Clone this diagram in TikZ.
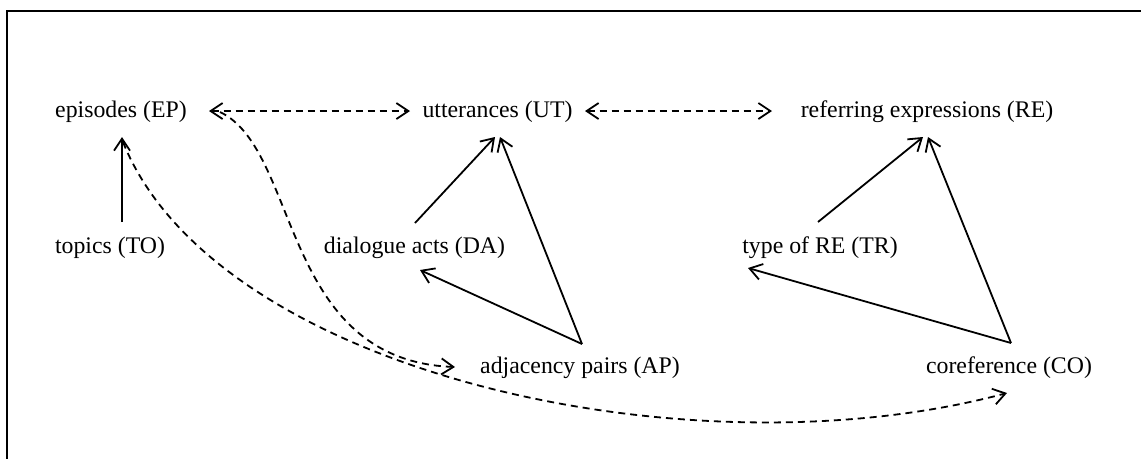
\documentclass[tikz,border=0pt]{standalone}
\usepackage{fontspec}
\setmainfont{Liberation Serif}
\usetikzlibrary{arrows.meta,calc}
\begin{document}
\begin{tikzpicture}[x=1pt,y=-1pt,
  lbl/.style={anchor=base,inner sep=0pt,outer sep=0pt,font=\fontsize{23.8}{28}\selectfont},
  solidarr/.style={line width=1.8pt,-{Straight Barb[length=12pt,width=16pt]}},
  dasharr/.style={line width=1.8pt,dash pattern=on 7pt off 5pt,-{Straight Barb[length=12pt,width=16pt]}},
  dashboth/.style={line width=1.8pt,dash pattern=on 7pt off 5pt,{Straight Barb[length=12pt,width=16pt]}-{Straight Barb[length=12pt,width=16pt]}},
  frame/.style={line width=2.4pt}]
\useasboundingbox (0,0) rectangle (1141,459);
\draw[frame] (1141,11) -- (7,11) -- (7,459);

\node[lbl] (EP) at (121,117) {episodes (EP)};
\node[lbl] (UT) at (497.5,117) {utterances (UT)};
\node[lbl] (RE) at (927,117) {referring expressions (RE)};
\node[lbl] (TO) at (110,253) {topics (TO)};
\node[lbl] (DA) at (414.5,253) {dialogue acts (DA)};
\node[lbl] (TR) at (820,253) {type of RE (TR)};
\node[lbl] (AP) at (580,373) {adjacency pairs (AP)};
\node[lbl] (CO) at (1009,373) {coreference (CO)};

\draw[solidarr] ($(TO.base)+(12,-31)$) -- ($(EP.base)+(1,20)$);
\draw[dashboth] ($(EP.base)+(88,-6)$) -- ($(UT.base)+(-87.5,-6)$);
\draw[dashboth] ($(UT.base)+(87.5,-6)$) -- ($(RE.base)+(-155,-6)$);
\draw[solidarr] ($(DA.base)+(0.5,-30)$) -- ($(UT.base)+(-2.5,20)$);
\draw[solidarr] ($(AP.base)+(2,-29)$) -- ($(UT.base)+(2.5,20)$);
\draw[solidarr] ($(AP.base)+(2,-29)$) -- ($(DA.base)+(5.5,17)$);
\draw[solidarr] ($(TR.base)+(-2,-31)$) -- ($(RE.base)+(-4,20)$);
\draw[solidarr] ($(CO.base)+(2,-30)$) -- ($(RE.base)+(1,20)$);
\draw[solidarr] ($(CO.base)+(2,-30)$) -- ($(TR.base)+(-72,15)$);

\draw[dasharr] ($(EP.base)+(99,-5)$) .. controls +(80,38) and +(-175,-7) .. ($(AP.base)+(-125,-6)$);
\draw[dasharr] ($(EP.base)+(2,25)$) .. controls +(92,230) and +(-319,85) .. ($(CO.base)+(-2,20)$);
\end{tikzpicture}
\end{document}
